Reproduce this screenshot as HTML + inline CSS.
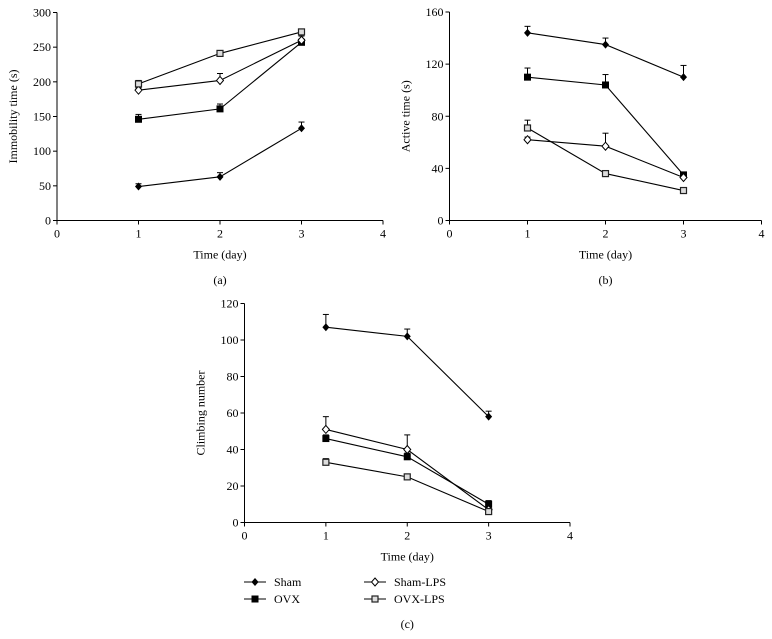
<!DOCTYPE html>
<html><head><meta charset="utf-8">
<style>
body{margin:0;background:#fff;}
svg{display:block;font-family:"Liberation Serif",serif;}
</style></head>
<body>
<svg id="fig" width="772" height="639" viewBox="0 0 772 639"></svg>
<script>
const days=[1,2,3];
const xTicks=[0,1,2,3,4];
const seriesNames=["Sham","OVX","Sham-LPS","OVX-LPS"];
const markers=["diamondFilled","squareFilled","diamondOpen","squareOpen"];
// Panel a: immobility time
const aSham=[49,63,133], aShamErr=[4,6,9];
const aOVX=[146,161,257], aOVXErr=[7,7,3];
const aShamLPS=[188,202,260], aShamLPSErr=[3,10,6];
const aOVXLPS=[197,241,272], aOVXLPSErr=[5,2,2];
const aTicks=[0,50,100,150,200,250,300];
// Panel b: active time
const bSham=[144,135,110], bShamErr=[5,5,9];
const bOVX=[110,104,35], bOVXErr=[7,8,2];
const bShamLPS=[62,57,33], bShamLPSErr=[2,10,2];
const bOVXLPS=[71,36,23], bOVXLPSErr=[6,2,1];
const bTicks=[0,40,80,120,160];
// Panel c: climbing number
const cSham=[107,102,58], cShamErr=[7,4,3];
const cOVX=[46,36,10], cOVXErr=[2,2,2];
const cShamLPS=[51,40,7], cShamLPSErr=[7,8,1];
const cOVXLPS=[33,25,6], cOVXLPSErr=[2,1,1];
const cTicks=[0,20,40,60,80,100,120];

const NS="http://www.w3.org/2000/svg";
const svg=document.getElementById('fig');
function el(tag,attrs,parent){const e=document.createElementNS(NS,tag);for(const k in attrs)e.setAttribute(k,attrs[k]);(parent||svg).appendChild(e);return e;}
function txt(s,attrs,parent){const t=el('text',attrs,parent);t.textContent=s;return t;}

function marker(type,x,y,g){
  let m;
  if(type==="diamondFilled"){m=el('polygon',{points:`${x},${y-4} ${x+3.5},${y} ${x},${y+4} ${x-3.5},${y}`,fill:'#000'},g);}
  else if(type==="diamondOpen"){m=el('polygon',{points:`${x},${y-4} ${x+3.5},${y} ${x},${y+4} ${x-3.5},${y}`,fill:'#fff',stroke:'#000','stroke-width':1},g);}
  else if(type==="squareFilled"){m=el('rect',{x:x-3.5,y:y-3.5,width:7,height:7,fill:'#000'},g);}
  else {m=el('rect',{x:x-3,y:y-3,width:6,height:6,fill:'#ddd',stroke:'#222','stroke-width':1.2},g);}
  
  
}

function panel(opt){
  const g=el('g',{});
  
  
  const X=v=>opt.x0+(opt.x4-opt.x0)*v/4;
  const Y=v=>opt.y0-(opt.y0-opt.yTop)*v/opt.yMax;
  const ax=el('line',{x1:opt.x0,y1:opt.y0,x2:opt.x4,y2:opt.y0,stroke:'#000','stroke-width':1},g);
  
  const ay=el('line',{x1:opt.x0,y1:opt.y0,x2:opt.x0,y2:opt.yTop,stroke:'#000','stroke-width':1},g);
  
  xTicks.forEach(v=>{
    el('line',{x1:X(v),y1:opt.y0,x2:X(v),y2:opt.y0+4,stroke:'#000'},g);
    const t=txt(String(v),{x:X(v),y:opt.y0+17,'text-anchor':'middle','font-size':12},g);
    
  });
  opt.ticks.forEach(v=>{
    el('line',{x1:opt.x0-4,y1:Y(v),x2:opt.x0,y2:Y(v),stroke:'#000'},g);
    const t=txt(String(v),{x:opt.x0-6,y:Y(v)+4,'text-anchor':'end','font-size':12},g);
    
  });
  const xt=txt('Time (day)',{x:X(2),y:opt.y0+38,'text-anchor':'middle','font-size':12},g);
  
  const ytx=opt.x0-40, yty=(opt.y0+opt.yTop)/2;
  const yt=txt(opt.ytitle,{x:ytx,y:yty,'text-anchor':'middle','font-size':12,transform:`rotate(-90 ${ytx} ${yty})`},g);
  
  const pl=txt(opt.label,{x:X(2),y:opt.labelY,'text-anchor':'middle','font-size':12},g);
  
  opt.series.forEach((s,i)=>{
    const sg=el('g',{},g);
    
    
    // error bars
    s[0].forEach((v,j)=>{
      const x=X(days[j]);
      el('line',{x1:x,y1:Y(v),x2:x,y2:Y(v+s[1][j]),stroke:'#000','stroke-width':1},sg);
      el('line',{x1:x-3,y1:Y(v+s[1][j]),x2:x+3,y2:Y(v+s[1][j]),stroke:'#000','stroke-width':1},sg);
    });
    const pts=s[0].map((v,j)=>X(days[j])+','+Y(v)).join(' ');
    const line=el('polyline',{points:pts,fill:'none',stroke:'#000','stroke-width':1.1},sg);
    
    
    s[0].forEach((v,j)=>marker(markers[i],X(days[j]),Y(v),sg));
  });
}

panel({name:'panel-a',x0:57,x4:383,y0:220.5,yTop:12.5,yMax:300,ticks:aTicks,ytitle:'Immobility time (s)',label:'(a)',labelY:284,
  series:[[aSham,aShamErr],[aOVX,aOVXErr],[aShamLPS,aShamLPSErr],[aOVXLPS,aOVXLPSErr]]});
panel({name:'panel-b',x0:449.5,x4:761.5,y0:220.5,yTop:12,yMax:160,ticks:bTicks,ytitle:'Active time (s)',label:'(b)',labelY:284,
  series:[[bSham,bShamErr],[bOVX,bOVXErr],[bShamLPS,bShamLPSErr],[bOVXLPS,bOVXLPSErr]]});
panel({name:'panel-c',x0:244.5,x4:570,y0:522.5,yTop:303.5,yMax:120,ticks:cTicks,ytitle:'Climbing number',label:'(c)',labelY:628,
  series:[[cSham,cShamErr],[cOVX,cOVXErr],[cShamLPS,cShamLPSErr],[cOVXLPS,cOVXLPSErr]]});

// legend
const lg=el('g',{});


const legPos=[[244,582],[244,599],[364,582],[364,599]];
seriesNames.forEach((n,i)=>{
  const [x,y]=legPos[i];
  const eg=el('g',{},lg);
  
  
  el('line',{x1:x,y1:y,x2:x+22,y2:y,stroke:'#000','stroke-width':1.1},eg);
  marker(markers[i],x+11,y,eg);
  txt(n,{x:x+30,y:y+4,'font-size':12},eg);
});
</script>
</body></html>
